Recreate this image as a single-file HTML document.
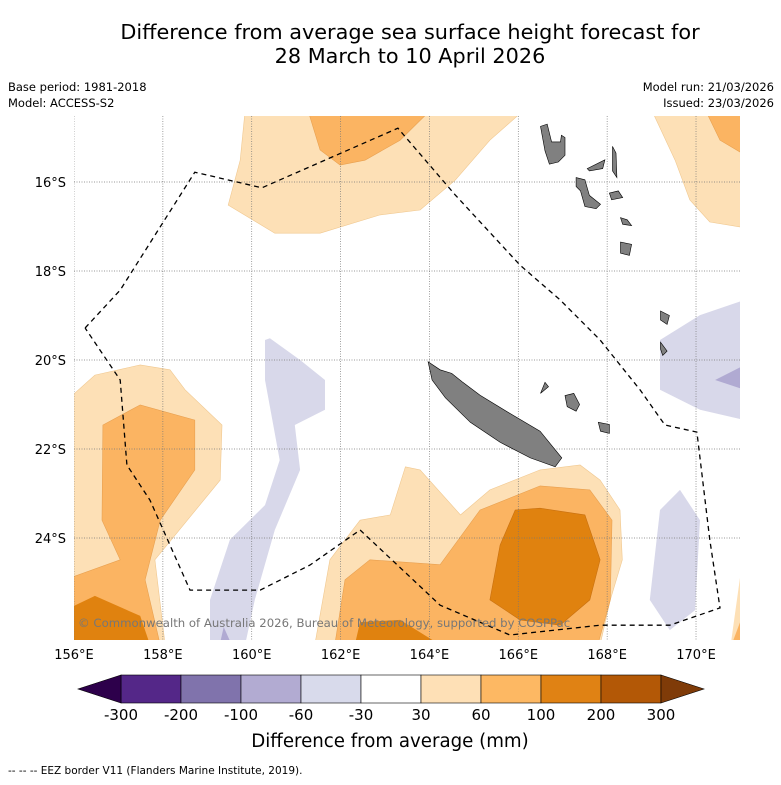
<!DOCTYPE html>
<html><head><meta charset="utf-8">
<style>
body{margin:0;background:#fff;font-family:"DejaVu Sans",sans-serif;}
svg text{font-family:"DejaVu Sans",sans-serif;}
</style></head>
<body>
<svg id="chart" width="781" height="781" viewBox="0 0 781 781" xmlns="http://www.w3.org/2000/svg">
<rect width="781" height="781" fill="#fff"/>
<text x="410" y="39" font-size="20.8" text-anchor="middle">Difference from average sea surface height forecast for</text>
<text x="410" y="63" font-size="20.8" text-anchor="middle">28 March to 10 April 2026</text>
<text x="8" y="91" font-size="11.5">Base period: 1981-2018</text>
<text x="8" y="107" font-size="11.5">Model: ACCESS-S2</text>
<text x="774" y="91" font-size="11.5" text-anchor="end">Model run: 21/03/2026</text>
<text x="774" y="107" font-size="11.5" text-anchor="end">Issued: 23/03/2026</text>
<defs><clipPath id="mapclip"><rect x="74" y="116" width="666" height="524"/></clipPath></defs>
<g id="map" clip-path="url(#mapclip)"></g>
<g id="axes"></g>
<g id="cbar"></g>
<text x="390" y="747" font-size="18.2" text-anchor="middle">Difference from average (mm)</text>
<text x="8" y="774" font-size="10.5">-- -- -- EEZ border V11 (Flanders Marine Institute, 2019).</text>
</svg>
<script>
const lonTicks=[156,158,160,162,164,166,168,170];
const latTicks=[16,18,20,22,24];
const cbLevels=[-300,-200,-100,-60,-30,30,60,100,200,300];
const cbColors=["#542788","#8073ac","#b2abd2","#d8daeb","#ffffff","#fee0b6","#fdb863","#e08214","#b35806"];
const cbExtend=["#2d004b","#7f3b08"];
const lightTop=[[159.85,14.4],[166.11,14.4],[165.36,15.06],[164.58,15.96],[163.79,16.63],[162.89,16.74],[161.54,17.15],[160.52,17.15],[159.47,16.52],[159.74,15.51]];
const midTop=[[161.27,14.4],[164.01,14.4],[163.34,15.06],[162.55,15.51],[161.99,15.62],[161.54,15.28]];
const lightTR=[[169.01,14.4],[171.1,14.4],[171.1,17.03],[170.31,16.9],[169.86,16.4],[169.53,15.51]];
const midTR=[[170.22,14.4],[171.1,14.4],[171.1,15.39],[170.54,15.06]];
const lightLeft=[[155.9,20.85],[156.47,20.34],[157.49,20.11],[158.16,20.22],[158.5,20.67],[159.33,21.46],[159.29,22.7],[157.82,24.49],[158.05,26.4],[155.9,26.4]];
const midLeft=[[155.9,24.9],[157.04,24.49],[156.63,23.6],[156.65,21.46],[157.49,21.01],[158.72,21.35],[158.72,22.47],[157.94,23.6],[157.6,24.94],[157.94,26.4],[155.9,26.4]];
const darkLeft=[[155.9,25.57],[156.47,25.3],[157.49,25.75],[157.71,26.4],[155.9,26.4]];
const lightBot=[[161.42,26.4],[161.76,24.49],[162.44,23.6],[163.12,23.48],[163.46,22.4],[163.79,22.47],[164.7,23.48],[165.36,22.92],[166.49,22.47],[167.39,22.36],[167.84,22.7],[168.29,23.37],[168.34,24.49],[168.07,25.39],[167.84,26.4]];
const midBot=[[161.87,26.4],[162.1,24.94],[162.66,24.49],[164.24,24.6],[165.14,23.37],[166.49,22.83],[167.61,22.92],[168.11,23.6],[168.07,25.39],[167.79,26.4]];
const darkBot=[[165.36,25.39],[165.59,24.16],[165.93,23.37],[166.49,23.33],[167.5,23.48],[167.84,24.49],[167.61,25.39],[166.94,25.96],[166.04,25.84]];
const darkBot2=[[162.32,26.4],[162.44,25.89],[163.34,25.84],[164.24,26.4]];
const lightBR=[[170.78,26.4],[171.1,24.1],[171.1,26.4]];
const midBR=[[170.8,26.4],[171.1,25.6],[171.1,26.4]];
const blueMain=[[160.3,19.55],[160.41,19.51],[161.09,20.0],[161.65,20.45],[161.65,21.12],[160.97,21.46],[161.09,22.47],[160.52,23.82],[160.07,25.39],[159.85,26.4],[159.06,26.4],[159.06,25.39],[159.51,24.04],[160.3,23.26],[160.63,22.25],[160.3,20.45]];
const blueRight=[[169.19,19.55],[170.09,18.99],[171.1,18.65],[171.1,21.35],[170.09,21.12],[169.19,20.67]];
const purpleRight=[[170.43,20.45],[171.1,20.11],[171.1,20.67]];
const blueBR=[[169.19,23.37],[169.64,22.92],[170.09,23.6],[169.98,25.62],[169.41,26.07],[168.96,25.39]];
const purpleBot=[[159.28,26.4],[159.37,26.0],[159.55,26.4]];
const newCaledonia=[[163.97,20.04],[164.24,20.22],[164.5,20.3],[164.75,20.5],[165.14,20.79],[165.81,21.2],[166.49,21.6],[166.98,22.2],[166.83,22.4],[166.27,22.2],[165.59,21.85],[164.92,21.4],[164.36,20.85],[164.06,20.45]];
const espiritu=[[166.5,14.75],[166.65,14.7],[166.75,15.1],[166.95,15.1],[166.97,14.95],[167.05,15.0],[167.05,15.4],[166.9,15.55],[166.7,15.6],[166.6,15.3]];
const malekula=[[167.3,15.9],[167.5,15.95],[167.6,16.3],[167.85,16.5],[167.75,16.6],[167.5,16.55],[167.4,16.2],[167.3,16.1]];
const efate=[[168.05,16.25],[168.25,16.2],[168.35,16.35],[168.1,16.4]];
const erromango=[[168.3,17.35],[168.55,17.4],[168.5,17.65],[168.3,17.6]];
const tanna=[[168.3,16.8],[168.45,16.85],[168.55,16.98],[168.35,16.95]];
const pentecost=[[168.12,15.2],[168.2,15.35],[168.22,15.9],[168.12,15.75]];
const ambae=[[167.55,15.7],[167.95,15.5],[167.9,15.7],[167.6,15.75]];
const lifou=[[167.05,20.8],[167.25,20.75],[167.38,21.0],[167.3,21.15],[167.1,21.05]];
const mare=[[167.8,21.4],[168.05,21.45],[168.05,21.65],[167.85,21.6]];
const ouvea=[[166.6,20.5],[166.68,20.6],[166.5,20.75]];
const aneityum=[[169.2,18.9],[169.4,19.0],[169.35,19.2],[169.2,19.1]];
const futuna=[[169.2,19.6],[169.35,19.8],[169.25,19.9],[169.2,19.75]];
const eez=[[156.25,19.28],[157.04,18.43],[158.72,15.78],[160.23,16.13],[163.29,14.79],[164.58,16.29],[166.04,17.87],[166.94,18.65],[167.84,19.55],[168.74,20.67],[169.3,21.46],[170.02,21.62],[170.31,24.04],[170.54,25.57],[169.41,25.96],[167.84,25.96],[165.81,26.18],[164.24,25.51],[162.44,23.82],[161.31,24.61],[160.19,25.17],[158.61,25.17],[157.71,23.15],[157.19,22.36],[157.04,20.45],[156.25,19.28]];

const NS="http://www.w3.org/2000/svg";
function px(lon){return 74+(lon-156)*44.43;}
function py(s){return 182+(s-16)*44.5;}
function pts(a){return a.map(p=>px(p[0]).toFixed(1)+","+py(p[1]).toFixed(1)).join(" ");}
const map=document.getElementById("map");
function poly(a,fill,stroke,name){
  const e=document.createElementNS(NS,"polygon");
  e.setAttribute("points",pts(a));e.setAttribute("fill",fill);
  e.setAttribute("stroke",stroke||"none");e.setAttribute("stroke-width","0.6");
  
  
  map.appendChild(e);
}
const L="#fde0b6",M="#fbb462",D="#e0820f",B="#d8d8ea",P="#b0aad2";
poly(lightTop,L,"#f0c890","contour-30-60-north");
poly(midTop,M,"#e8a050","contour-60-100-north");
poly(lightTR,L,"#f0c890","contour-30-60-northeast");
poly(midTR,M,"#e8a050","contour-60-100-northeast");
poly(lightLeft,L,"#f0c890","contour-30-60-west");
poly(midLeft,M,"#e8a050","contour-60-100-west");
poly(darkLeft,D,"none","contour-100-200-west");
poly(lightBot,L,"#f0c890","contour-30-60-south");
poly(midBot,M,"#e8a050","contour-60-100-south");
poly(darkBot,D,"#c87010","contour-100-200-south");
poly(darkBot2,D,"none","contour-100-200-south-edge");
poly(lightBR,L,"none","contour-30-60-southeast");
poly(midBR,M,"none","contour-60-100-southeast");
poly(blueMain,B,"none","contour-neg30-60-west");
poly(blueRight,B,"none","contour-neg30-60-east");
poly(purpleRight,P,"none","contour-neg60-100-east");
poly(blueBR,B,"none","contour-neg30-60-southeast");
poly(purpleBot,P,"none","contour-neg60-100-south");
lonTicks.forEach(v=>{const l=document.createElementNS(NS,"line");l.setAttribute("x1",px(v));l.setAttribute("x2",px(v));l.setAttribute("y1",116);l.setAttribute("y2",640);l.setAttribute("stroke","#777");l.setAttribute("stroke-width","0.7");l.setAttribute("stroke-dasharray","1,1.5");


map.appendChild(l);});
latTicks.forEach(v=>{const l=document.createElementNS(NS,"line");l.setAttribute("y1",py(v));l.setAttribute("y2",py(v));l.setAttribute("x1",74);l.setAttribute("x2",740);l.setAttribute("stroke","#777");l.setAttribute("stroke-width","0.7");l.setAttribute("stroke-dasharray","1,1.5");


map.appendChild(l);});
[["new-caledonia",newCaledonia],["espiritu-santo",espiritu],["malekula",malekula],["efate",efate],["erromango",erromango],["tanna",tanna],["pentecost",pentecost],["ambae",ambae],["lifou",lifou],["mare",mare],["ouvea",ouvea],["aneityum",aneityum],["futuna",futuna]].forEach(i=>poly(i[1],"#808080","#000",i[0]));
const ez=document.createElementNS(NS,"polyline");
ez.setAttribute("points",pts(eez));ez.setAttribute("fill","none");ez.setAttribute("stroke","#000");ez.setAttribute("stroke-width","1.3");ez.setAttribute("stroke-dasharray","5,4");


map.appendChild(ez);
const cp=document.createElementNS(NS,"text");
cp.setAttribute("x",78);cp.setAttribute("y",627);cp.setAttribute("font-size","11.7");cp.setAttribute("fill","#777");
cp.textContent="© Commonwealth of Australia 2026, Bureau of Meteorology, supported by COSPPac";


map.appendChild(cp);
const ax=document.getElementById("axes");
lonTicks.forEach(v=>{const t=document.createElementNS(NS,"text");t.setAttribute("x",px(v));t.setAttribute("y",659);t.setAttribute("font-size","13");t.setAttribute("text-anchor","middle");t.textContent=v+"°E";


ax.appendChild(t);});
latTicks.forEach(v=>{const t=document.createElementNS(NS,"text");t.setAttribute("x",66);t.setAttribute("y",py(v)+5);t.setAttribute("font-size","13");t.setAttribute("text-anchor","end");t.textContent=v+"°S";


ax.appendChild(t);});
const cb=document.getElementById("cbar");
const cx0=121,cw=60,cy=675,ch=28;
function cbx(i){return cx0+i*cw;}
cbColors.forEach((c,i)=>{const r=document.createElementNS(NS,"rect");r.setAttribute("x",cbx(i));r.setAttribute("y",cy);r.setAttribute("width",cw);r.setAttribute("height",ch);r.setAttribute("fill",c);r.setAttribute("stroke","#000");r.setAttribute("stroke-width","0.6");


cb.appendChild(r);});
const end=cbx(cbColors.length);
[[`${cx0},${cy} ${cx0},${cy+ch} 78,${cy+ch/2}`,cbExtend[0]],[`${end},${cy} ${end},${cy+ch} 704,${cy+ch/2}`,cbExtend[1]]].forEach(tp=>{const p=document.createElementNS(NS,"polygon");p.setAttribute("points",tp[0]);p.setAttribute("fill",tp[1]);p.setAttribute("stroke","#000");p.setAttribute("stroke-width","0.6");


cb.appendChild(p);});
cbLevels.forEach((v,i)=>{const t=document.createElementNS(NS,"text");t.setAttribute("x",cbx(i));t.setAttribute("y",720);t.setAttribute("font-size","15");t.setAttribute("text-anchor","middle");t.textContent=v;


cb.appendChild(t);});
</script>
</body></html>
